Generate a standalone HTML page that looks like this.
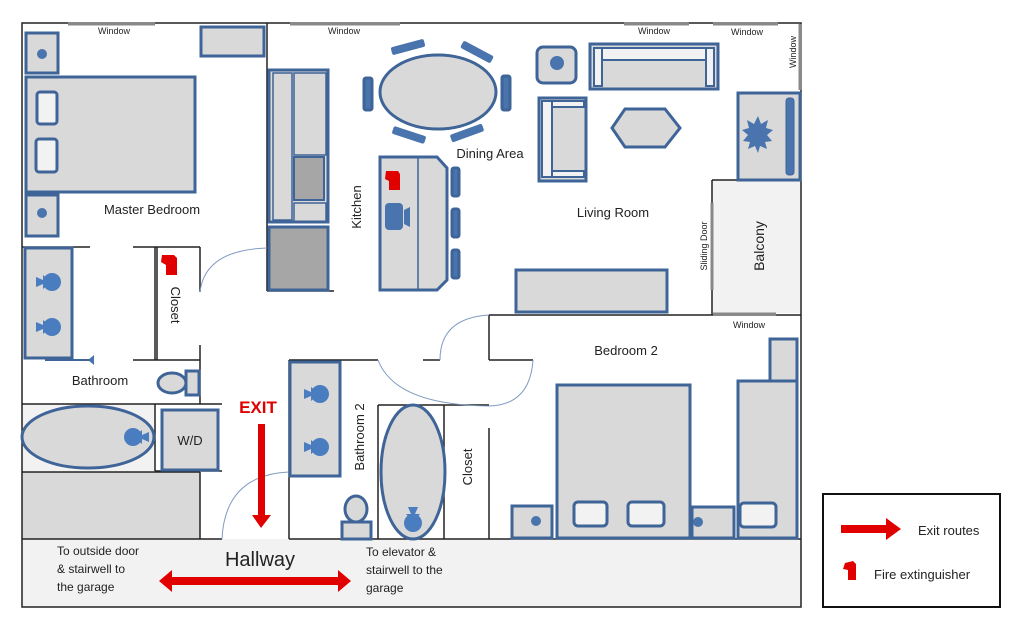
<!DOCTYPE html>
<html><head><meta charset="utf-8"><style>
html,body{margin:0;padding:0;background:#fff;width:1024px;height:630px;overflow:hidden}
svg text{font-family:"Liberation Sans",sans-serif;fill:#222}
</style></head><body>
<svg width="1024" height="630" viewBox="0 0 1024 630" xmlns="http://www.w3.org/2000/svg">
<defs>
<g id="sink"><circle cx="6" cy="0" r="9" fill="#4a7cc0"/><path d="M-10,-5 L-3,-2 L-3,-7 L2,-3 L2,3 L-3,7 L-3,2 L-10,5 Z" fill="#4a7cc0"/></g>
</defs>
<g fill="#d9d9d9" stroke="#3f6497" stroke-width="3">
<!-- hallway -->
<rect x="22" y="539" width="779" height="68" fill="#f2f2f2" stroke="none"/>
<rect x="712" y="180" width="88" height="133" fill="#f2f2f2" stroke="none"/>
<rect x="22" y="404" width="133" height="67" fill="#f2f2f2" stroke="none"/>
<rect x="22" y="472" width="178" height="67" stroke="none"/>
</g>
<!-- walls -->
<g fill="none" stroke="#222" stroke-width="1.5">
<rect x="22" y="23" width="779" height="584"/>
<line x1="267" y1="23" x2="267" y2="291"/><line x1="267" y1="291" x2="334" y2="291"/>
<line x1="22" y1="247" x2="90" y2="247"/><line x1="133" y1="247" x2="200" y2="247"/>
<line x1="155" y1="247" x2="155" y2="360"/><line x1="157" y1="247" x2="157" y2="360"/>
<line x1="200" y1="247" x2="200" y2="292"/><line x1="200" y1="345" x2="200" y2="404"/>
<line x1="133" y1="360" x2="200" y2="360"/>
<line x1="22" y1="404" x2="222" y2="404"/><line x1="155" y1="404" x2="155" y2="471"/>
<line x1="155" y1="471" x2="222" y2="471"/><line x1="22" y1="472" x2="200" y2="472"/>
<line x1="200" y1="472" x2="200" y2="539"/>
<line x1="22" y1="539" x2="222" y2="539"/><line x1="289" y1="539" x2="801" y2="539"/>
<line x1="289" y1="360" x2="289" y2="539"/><line x1="289" y1="360" x2="378" y2="360"/><line x1="423" y1="360" x2="440" y2="360"/>
<line x1="378" y1="405" x2="489" y2="405"/><line x1="378" y1="405" x2="378" y2="539"/>
<line x1="444" y1="405" x2="444" y2="539"/><line x1="489" y1="428" x2="489" y2="539"/>
<line x1="489" y1="315" x2="489" y2="360"/><line x1="489" y1="360" x2="533" y2="360"/>
<line x1="489" y1="315" x2="801" y2="315"/>
<line x1="712" y1="180" x2="712" y2="315"/><line x1="712" y1="180" x2="800" y2="180"/>
</g>
<g stroke="#888" stroke-width="3">
<line x1="68" y1="24" x2="155" y2="24"/><line x1="290" y1="24" x2="400" y2="24"/>
<line x1="624" y1="24" x2="689" y2="24"/><line x1="713" y1="24" x2="778" y2="24"/>
<line x1="800" y1="24" x2="800" y2="90"/><line x1="713" y1="314" x2="776" y2="314"/>
<line x1="712" y1="203" x2="712" y2="290"/>
</g>
<!-- door arcs -->
<g fill="none" stroke="#7f9cc0" stroke-width="1">
<path d="M200,292 Q205,250 267,248"/>
<path d="M222,539 Q225,475 289,472"/>
<path d="M440,360 Q440,318 489,315"/>
<path d="M378,360 Q395,405 489,406"/>
<path d="M533,360 Q530,405 489,406"/>
</g>
<!-- furniture -->
<g fill="#d9d9d9" stroke="#3f6497" stroke-width="3">
<rect x="26" y="33" width="32" height="40"/>
<rect x="26" y="77" width="169" height="115"/>
<rect x="37" y="92" width="20" height="32" rx="3" fill="#f2f2f2"/>
<rect x="36" y="139" width="21" height="33" rx="3" fill="#f2f2f2"/>
<rect x="26" y="195" width="32" height="41"/>
<rect x="201" y="27" width="63" height="29"/>
<rect x="269" y="70" width="59" height="152"/>
<rect x="273" y="73" width="19" height="147" stroke-width="1.5"/>
<rect x="294" y="157" width="30" height="43" fill="#a6a6a6" stroke-width="2"/>
<rect x="269" y="227" width="59" height="63" fill="#a6a6a6"/>
<polygon points="380,157 437,157 447,168 447,280 437,290 380,290"/>
<rect x="364" y="78" width="8" height="32" rx="2" fill="#4a74ad"/>
<rect x="502" y="76" width="8" height="34" rx="2" fill="#4a74ad"/>
<rect x="452" y="168" width="7" height="28" rx="2" fill="#4a74ad"/>
<rect x="452" y="209" width="7" height="28" rx="2" fill="#4a74ad"/>
<rect x="452" y="250" width="7" height="28" rx="2" fill="#4a74ad"/>
<ellipse cx="438" cy="92" rx="58" ry="37"/>
<rect x="537" y="47" width="39" height="36" rx="6"/>
<rect x="590" y="44" width="128" height="45"/>
<rect x="539" y="98" width="47" height="83"/>
<polygon points="612,128 625,109 665,109 680,128 665,147 625,147"/>
<rect x="738" y="93" width="62" height="87"/>
<rect x="516" y="270" width="151" height="42"/>
<rect x="770" y="339" width="27" height="42"/>
<rect x="738" y="381" width="59" height="157"/>
<rect x="557" y="385" width="133" height="153"/>
<rect x="512" y="506" width="40" height="32"/>
<rect x="692" y="507" width="42" height="31"/>
<rect x="25" y="248" width="47" height="110"/>
<rect x="162" y="410" width="56" height="60"/>
<ellipse cx="88" cy="437" rx="66" ry="31"/>
<ellipse cx="172" cy="383" rx="14" ry="10"/>
<rect x="186" y="371" width="13" height="24"/>
<rect x="290" y="362" width="50" height="114"/>
<ellipse cx="356" cy="509" rx="11" ry="13"/>
<rect x="342" y="522" width="29" height="17"/>
<ellipse cx="413" cy="472" rx="32" ry="67"/>
</g>
<g fill="#f2f2f2" stroke="#3f6497" stroke-width="3">
<rect x="574" y="502" width="33" height="24" rx="4"/><rect x="628" y="502" width="36" height="24" rx="4"/>
<rect x="740" y="503" width="36" height="24" rx="4"/>
<rect x="594" y="48" width="120" height="12" stroke-width="2"/>
<rect x="594" y="48" width="8" height="38" stroke-width="2"/><rect x="706" y="48" width="8" height="38" stroke-width="2"/>
<rect x="542" y="101" width="42" height="6" stroke-width="2"/><rect x="542" y="171" width="42" height="6" stroke-width="2"/>
<rect x="542" y="101" width="10" height="76" stroke-width="2"/>
</g>
<g fill="none" stroke="#3f6497" stroke-width="1.5">
<line x1="418" y1="158" x2="418" y2="289"/>
<rect x="294" y="73" width="32" height="82"/><rect x="294" y="203" width="32" height="19"/>
</g>
<g fill="#4a74ad">
<rect x="391" y="43" width="34" height="8" rx="2" transform="rotate(-15 408 47)"/>
<rect x="460" y="48" width="34" height="8" rx="2" transform="rotate(28 477 52)"/>
<rect x="392" y="131" width="34" height="8" rx="2" transform="rotate(18 409 135)"/>
<rect x="450" y="129" width="34" height="8" rx="2" transform="rotate(-20 467 133)"/>
<circle cx="42" cy="54" r="5"/><circle cx="42" cy="213" r="5"/>
<circle cx="557" cy="63" r="7"/><circle cx="536" cy="521" r="5"/><circle cx="698" cy="522" r="5"/>
<rect x="786" y="98" width="8" height="77" rx="3" stroke="#3f6497"/>
<polygon points="758,116 761,124 768,120 766,128 773,130 767,135 772,141 765,142 767,149 760,146 758,153 755,146 748,149 750,142 743,141 748,135 742,130 749,128 747,120 754,124"/>
<rect x="385" y="203" width="18" height="27" rx="4"/>
<path d="M404,210 L410,207 L410,227 L404,224 Z"/>
<path d="M88,360 L94,355 L94,365 Z"/>
</g>
<line x1="45" y1="360" x2="90" y2="360" stroke="#3f6497" stroke-width="2"/>
<use href="#sink" x="46" y="282"/><use href="#sink" x="46" y="327"/>
<use href="#sink" x="314" y="394"/><use href="#sink" x="314" y="447"/>
<use href="#sink" x="139" y="437" transform="rotate(180 139 437)"/>
<use href="#sink" x="413" y="517" transform="rotate(90 413 517)"/>
<!-- extinguishers -->
<g fill="#e00000">
<path d="M386,171 L398,171 L400,174 L400,190 L389,190 L389,181 L385,179 Z"/>
<path d="M162,255 L174,255 L177,258 L177,275 L166,275 L166,265 L161,262 Z"/>
<path d="M845,563 L853,561 L856,564 L856,580 L848,580 L848,570 L843,569 Z"/>
</g>
<!-- exit arrows -->
<g fill="#e00000">
<rect x="258" y="424" width="7" height="93"/><polygon points="252,515 271,515 261,528"/>
<rect x="170" y="577" width="172" height="8"/>
<polygon points="159,581 172,570 172,592"/><polygon points="351,581 338,570 338,592"/>
<rect x="841" y="525" width="48" height="8"/><polygon points="886,518 901,529 886,540"/>
</g>
<!-- texts -->
<g font-size="9" text-anchor="middle">
<text x="114" y="34">Window</text><text x="344" y="34">Window</text>
<text x="654" y="34">Window</text><text x="747" y="35">Window</text>
<text x="749" y="328">Window</text>
<text transform="translate(796,52) rotate(-90)">Window</text>
<text transform="translate(707,246) rotate(-90)">Sliding Door</text>
</g>
<g font-size="13" text-anchor="middle">
<text x="152" y="214">Master Bedroom</text>
<text x="490" y="158">Dining Area</text>
<text x="613" y="217">Living Room</text>
<text x="626" y="355">Bedroom 2</text>
<text x="100" y="385">Bathroom</text>
<text x="190" y="445">W/D</text>
<text transform="translate(361,207) rotate(-90)">Kitchen</text>
<text transform="translate(764,246) rotate(-90)" font-size="14">Balcony</text>
<text transform="translate(171,305) rotate(90)">Closet</text>
<text transform="translate(364,437) rotate(-90)">Bathroom 2</text>
<text transform="translate(472,467) rotate(-90)">Closet</text>
<text x="260" y="566" font-size="20">Hallway</text>
<text x="258" y="413" font-size="17" font-weight="bold" style="fill:#e00000">EXIT</text>
</g>
<g font-size="12">
<text x="57" y="555">To outside door</text><text x="57" y="573">&amp; stairwell to</text><text x="57" y="591">the garage</text>
<text x="366" y="556">To elevator  &amp;</text><text x="366" y="574">stairwell to the</text><text x="366" y="592">garage</text>
</g>
<rect x="823" y="494" width="177" height="113" fill="none" stroke="#111" stroke-width="2"/>
<g font-size="13"><text x="918" y="535">Exit routes</text><text x="874" y="579">Fire extinguisher</text></g>
</svg>
</body></html>
